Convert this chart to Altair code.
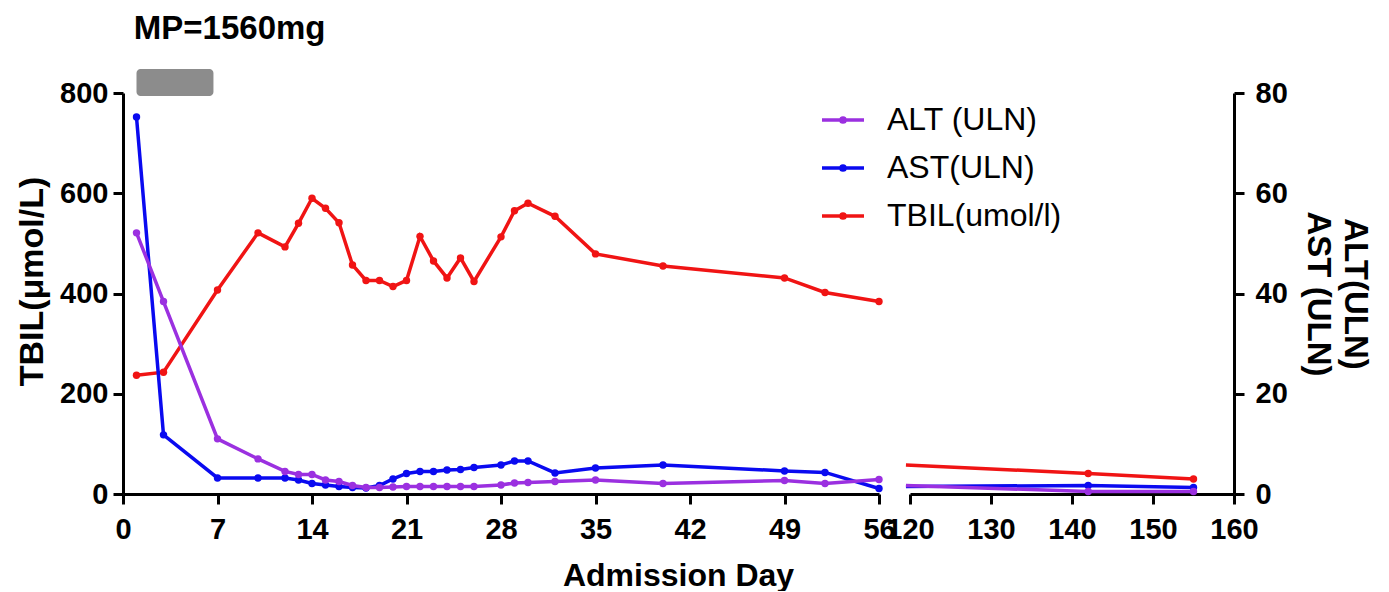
import altair as alt
import pandas as pd

FONT = "Liberation Sans"

# ---- data: first segment (days 0-56) ----
days_a = [1, 3, 7, 10, 12, 13, 14, 15, 16, 17, 18, 19, 20, 21, 22, 23, 24, 25, 26,
          28, 29, 30, 32, 35, 40, 49, 52, 56]
alt_a = [52.1, 38.4, 11.0, 7.0, 4.5, 3.9, 3.9, 2.8, 2.5, 1.7, 1.3, 1.3, 1.4, 1.5, 1.5,
         1.5, 1.5, 1.5, 1.5, 1.8, 2.2, 2.3, 2.5, 2.8, 2.1, 2.7, 2.1, 2.9]
ast_a = [75.2, 11.8, 3.2, 3.2, 3.2, 2.8, 2.1, 1.8, 1.5, 1.3, 1.2, 1.7, 3.0, 4.1, 4.5,
         4.5, 4.8, 4.9, 5.3, 5.8, 6.6, 6.6, 4.2, 5.2, 5.8, 4.6, 4.3, 1.1]
tbil_a = [237, 243, 407, 521, 493, 540, 590, 570, 541, 457, 426, 426, 414, 426, 514,
          465, 431, 471, 424, 513, 565, 580, 554, 479, 455, 431, 402, 384]
marker_a = [True] * len(days_a)

# ---- data: second segment (days 120-160) ----
days_b = [119.5, 142, 155]
alt_b = [1.7, 0.5, 0.5]
ast_b = [1.5, 1.7, 1.3]
tbil_b = [58, 41, 30]
marker_b = [False, True, True]

series_names = ["ALT (ULN)", "AST(ULN)", "TBIL(umol/l)"]
series_colors = ["#9B30E0", "#0A0AF0", "#F01414"]

x_ticks_a = [0, 7, 14, 21, 28, 35, 42, 49, 56]
x_ticks_b = [120, 130, 140, 150, 160]
tbil_ticks = [0, 200, 400, 600, 800]
uln_ticks = [0, 20, 40, 60, 80]

# MP treatment annotation
mp_label = "MP=1560mg"
mp_days = [1, 6.7]


def frame(days, vals, name, markers):
    return pd.DataFrame({"day": days, "value": vals, "series": name, "marker": markers})


color_scale = alt.Scale(domain=series_names, range=series_colors)
legend_symbol = "M-1,0L1,0M-0.1,0a0.1,0.1 0 1,0 0.2,0a0.1,0.1 0 1,0 -0.2,0"
legend = alt.Legend(title=None, orient="none", legendX=697, legendY=4, padding=0,
                    symbolType=legend_symbol, symbolSize=1764, symbolStrokeWidth=3.5,
                    labelFont=FONT, labelFontSize=32, labelColor="black",
                    labelOffset=21, rowPadding=9, labelLimit=0)


def series_chart(df, xscale, xaxis, yscale, yaxis, show_legend):
    col = alt.Color("series:N", scale=color_scale,
                    legend=legend if show_legend else None)
    base = alt.Chart(df).encode(
        x=alt.X("day:Q", scale=xscale, axis=xaxis),
        y=alt.Y("value:Q", scale=yscale, axis=yaxis),
        color=col,
    )
    line = base.mark_line(strokeWidth=3.5)
    pts = base.mark_point(filled=True, size=55, opacity=1).transform_filter("datum.marker")
    return line + pts


def panel(days, altv, astv, tbilv, markers, xdomain, xticks, left, show_legend):
    xscale = alt.Scale(domain=xdomain, nice=False, zero=False)
    if left:
        xaxis = alt.Axis(values=xticks, title="Admission Day", titleFontSize=32,
                         titleX=555, titleY=91, titleBaseline="alphabetic",
                         labelPadding=11, labelFlush=False, labelOverlap=False)
    else:
        xaxis = alt.Axis(values=xticks, title=None, labelPadding=11, labelFlush=False,
                         labelOverlap=False)
    tscale = alt.Scale(domain=[0, 800], nice=False)
    uscale = alt.Scale(domain=[0, 80], nice=False)
    taxis = (alt.Axis(values=tbil_ticks, title="TBIL(μmol/L)", titleFontSize=34,
                      labelPadding=5, titlePadding=10, titleY=188) if left else None)
    uaxis = (None if left else
             alt.Axis(orient="right", values=uln_ticks, title=["ALT(ULN)", "AST (ULN)"],
                      titleFontSize=33, labelPadding=11, titlePadding=13,
                      titleLineHeight=37))

    ast_c = series_chart(frame(days, astv, series_names[1], markers), xscale, xaxis,
                         uscale, uaxis, show_legend)
    alt_c = series_chart(frame(days, altv, series_names[0], markers), xscale, xaxis,
                         uscale, uaxis, show_legend)
    tbil_c = series_chart(frame(days, tbilv, series_names[2], markers), xscale, xaxis,
                          tscale, taxis, show_legend)
    tbil_layers = [tbil_c]
    if left:
        mp_df = pd.DataFrame({"start": [mp_days[0]], "end": [mp_days[1]],
                              "top": [848], "bottom": [794]})
        rect = alt.Chart(mp_df).mark_rect(cornerRadius=4, color="#8C8C8C").encode(
            x=alt.X("start:Q", scale=xscale, axis=xaxis), x2="end:Q",
            y=alt.Y("top:Q", scale=tscale, axis=taxis), y2="bottom:Q")
        txt_df = pd.DataFrame({"day": [0.8], "level": [908], "label": [mp_label]})
        txt = alt.Chart(txt_df).mark_text(align="left", baseline="alphabetic", font=FONT,
                                          fontSize=33, fontWeight="bold",
                                          color="black").encode(
            x=alt.X("day:Q", scale=xscale, axis=xaxis),
            y=alt.Y("level:Q", scale=tscale, axis=taxis),
            text="label:N")
        tbil_layers = [rect, txt, tbil_c]
    tb = alt.layer(*tbil_layers)
    ul = alt.layer(ast_c, alt_c)
    return alt.layer(tb, ul).resolve_scale(y="independent")


left_panel = panel(days_a, alt_a, ast_a, tbil_a, marker_a, [0, 56], x_ticks_a, True, True)
left_panel = left_panel.properties(width=756, height=401)
right_panel = panel(days_b, alt_b, ast_b, tbil_b, marker_b, [120, 160], x_ticks_b, False, False)
right_panel = right_panel.properties(width=324, height=401)

chart = alt.hconcat(left_panel, right_panel, spacing=31, bounds="flush").resolve_legend(
    color="independent"
).properties(
    padding={"left": 7, "top": 4, "right": 8, "bottom": 0},
    background="white",
).configure_view(stroke=None).configure_axis(
    domainColor="black", domainWidth=3, tickColor="black", tickWidth=3, tickSize=10,
    labelFont=FONT, labelFontSize=29, labelFontWeight="bold", labelColor="black",
    grid=False, titleFont=FONT, titleFontWeight="bold", titleColor="black"
)

chart.save("out.html", embed_options={"renderer": "svg", "actions": False})
